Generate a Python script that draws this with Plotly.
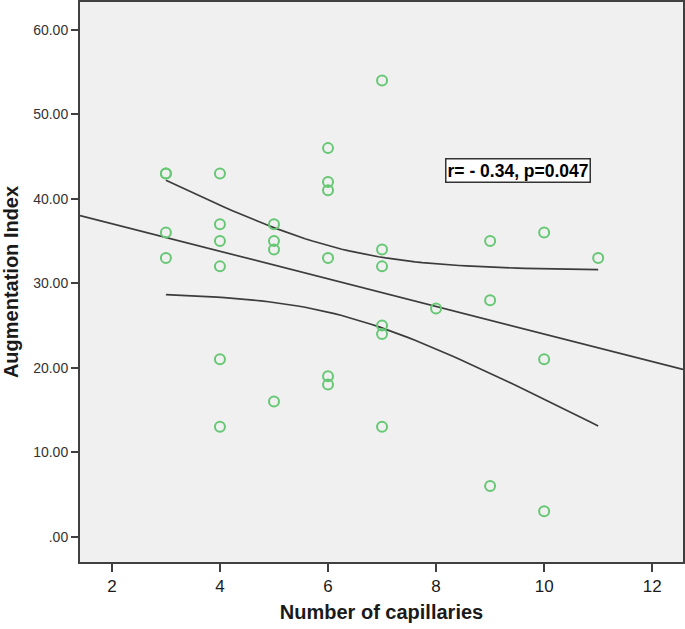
import numpy as np
import plotly.graph_objects as go

# Data (one entry per point; (3, 43) is drawn twice)
capillaries = [3, 3, 3, 3,
               4, 4, 4, 4, 4, 4,
               5, 5, 5, 5,
               6, 6, 6, 6, 6, 6,
               7, 7, 7, 7, 7, 7,
               8,
               9, 9, 9,
               10, 10, 10,
               11]
aug_index = [43, 43, 36, 33,
             43, 37, 35, 32, 21, 13,
             37, 35, 34, 16,
             46, 42, 41, 33, 19, 18,
             54, 34, 32, 25, 24, 13,
             27,
             35, 28, 6,
             36, 21, 3,
             33]

y_ticks = [0, 10, 20, 30, 40, 50, 60]
y_ticktext = [".00", "10.00", "20.00", "30.00", "40.00", "50.00", "60.00"]
x_ticks = [2, 4, 6, 8, 10, 12]
x_range = [1.41, 12.57]
y_range = [-3.0, 63.3]

# linear fit and 95% CI of the mean
x = np.array(capillaries, dtype=float)
y = np.array(aug_index, dtype=float)
n = len(x)
slope, intercept = np.polyfit(x, y, 1)
resid = y - (slope * x + intercept)
s = np.sqrt(np.sum(resid ** 2) / (n - 2))
sxx = np.sum((x - x.mean()) ** 2)
t_crit = 2.037

fit_x = np.linspace(x_range[0], x_range[1], 50)
fit_y = slope * fit_x + intercept
ci_x = np.linspace(x.min(), x.max(), 60)
ci_mid = slope * ci_x + intercept
half = t_crit * s * np.sqrt(1 / n + (ci_x - x.mean()) ** 2 / sxx)

line_style = dict(color="#3c3c3c", width=1.7)

fig = go.Figure()
fig.add_trace(go.Scatter(x=fit_x, y=fit_y, mode="lines", line=line_style,
                         hoverinfo="skip"))
fig.add_trace(go.Scatter(x=ci_x, y=ci_mid + half, mode="lines", line=line_style,
                         hoverinfo="skip"))
fig.add_trace(go.Scatter(x=ci_x, y=ci_mid - half, mode="lines", line=line_style,
                         hoverinfo="skip"))
fig.add_trace(go.Scatter(x=capillaries, y=aug_index, mode="markers",
                         marker=dict(symbol="circle-open", size=10,
                                     color="#66c874", line=dict(width=2))))

fig.add_annotation(x=9.52, y=43.3, text="<b>r= - 0.34, p=0.047</b>",
                   showarrow=False, bgcolor="#ffffff", bordercolor="#333333",
                   borderwidth=1.5, borderpad=1,
                   font=dict(family="Liberation Sans, Arial, sans-serif",
                             size=17.5, color="#000000"))

fig.update_layout(
    width=685, height=629,
    margin=dict(l=80, r=2, t=2, b=67, autoexpand=False),
    paper_bgcolor="#ffffff",
    plot_bgcolor="#f0f0f0",
    showlegend=False,
    font=dict(family="Liberation Sans, Arial, sans-serif", color="#444444"),
)
fig.update_xaxes(
    range=x_range, tickvals=x_ticks, showgrid=False, zeroline=False,
    showline=True, mirror=True, linecolor="#404040", linewidth=2,
    ticks="outside", ticklen=8, tickwidth=2, tickcolor="#404040",
    automargin=False,
    tickfont=dict(family="Liberation Sans Narrow, Arial Narrow, sans-serif",
                  size=17, color="#1a1a1a"),
    title=dict(text="<b>Number of capillaries</b>", standoff=10,
               font=dict(size=20, color="#1a1a1a")),
)
fig.update_yaxes(
    range=y_range, tickvals=y_ticks, ticktext=y_ticktext, showgrid=False,
    zeroline=False, showline=True, mirror=True, linecolor="#404040",
    linewidth=2, ticks="outside", ticklen=7, tickwidth=2, tickcolor="#404040",
    automargin=False,
    tickfont=dict(size=14, color="#333333"),
    title=dict(text="<b>Augmentation Index</b>", standoff=12,
               font=dict(size=20, color="#1a1a1a")),
)

# drop the page's default 8px body margin so the figure sits at (0, 0)
fig.write_html("out.html", config={"displayModeBar": False},
               post_script="document.body.style.margin='0';")
